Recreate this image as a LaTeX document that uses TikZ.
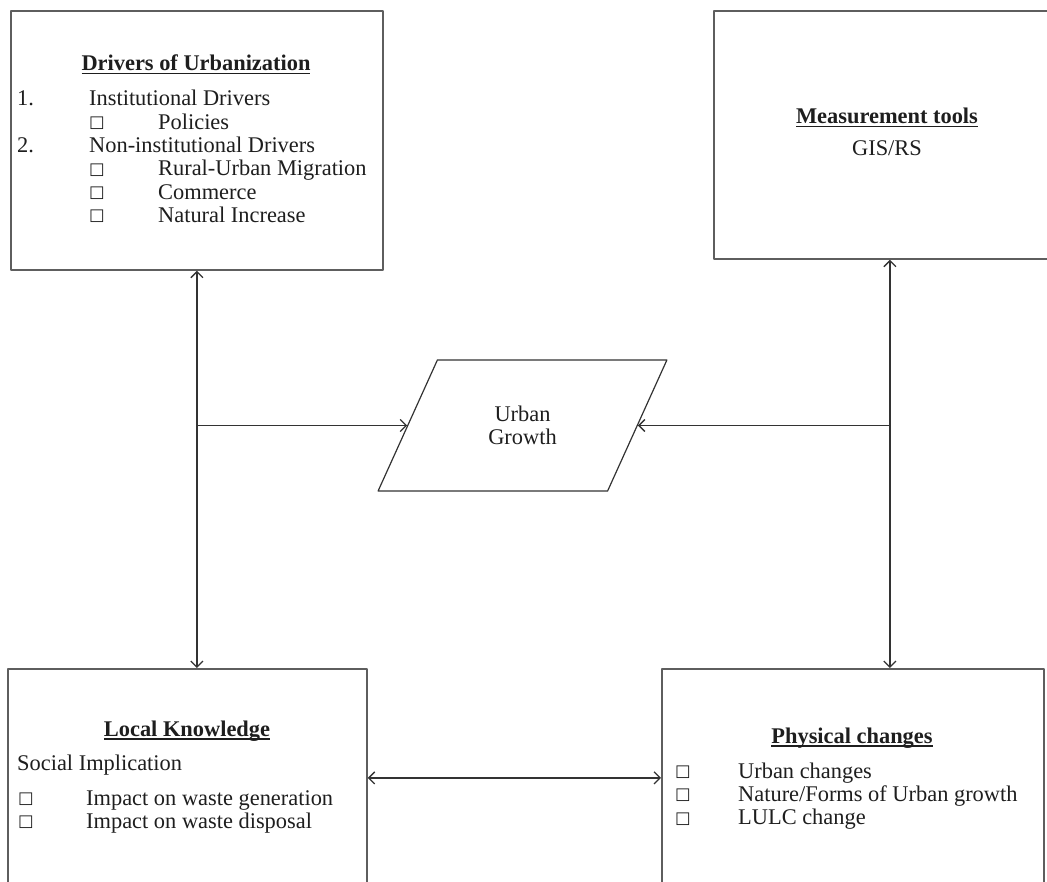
\documentclass[tikz,border=0pt]{standalone}
\usepackage{fontspec}
\setmainfont{Liberation Serif}
\newfontfamily\symfont{DejaVu Sans}
\usepackage{tikz}
\usetikzlibrary{arrows.meta,positioning,calc,shapes.geometric}
\definecolor{frame}{HTML}{5E5E5E}
\definecolor{wire}{HTML}{333333}
\definecolor{ink}{HTML}{1E1E1E}
\newsavebox{\headbox}
\newcommand{\sq}{\raisebox{1.5pt}{\symfont\fontsize{16.5}{16.5}\selectfont\char"25A1}}
\newcommand{\head}[1]{\sbox{\headbox}{\textbf{#1}}%
  \rlap{\rule[-3.5pt]{\wd\headbox}{1.1pt}}\usebox{\headbox}}
\newcommand{\bodyfont}{\fontsize{22.4}{23.3}\selectfont}
\tikzset{
    every picture/.style={line cap=round,line join=round},
    panel/.style={draw=frame,fill=white,line width=1.8pt,inner sep=0pt,
      anchor=north west},
    growthbox/.style={draw=wire,line width=1.2pt,trapezium,
      trapezium left angle=58.6,trapezium right angle=121.4,
      trapezium stretches=true,minimum width=289pt,minimum height=131pt,
      inner sep=0pt,align=center,text=ink,font=\bodyfont},
    bodytext/.style={inner sep=0pt,text=ink,font=\bodyfont},
    linkarrow/.style={draw=wire,line width=1.3pt}
}
\begin{document}
\begin{tikzpicture}[x=1pt,y=-1pt,>={Straight Barb[length=6pt,width=12pt]}]
  \useasboundingbox (0,0) rectangle (1047,882);
  \clip (0,0) rectangle (1047,882);
  % panels
  \node[panel,minimum width=372pt,minimum height=259pt] (drivers) at (10,10) {};
  \node[panel,minimum width=352pt,minimum height=248pt] (tools) at (713,10) {};
  \node[panel,minimum width=359pt,minimum height=218pt] (local) at (7,668) {};
  \node[panel,minimum width=382pt,minimum height=218pt] (physical) at (661,668) {};
  \node[growthbox] (growth) at (522.5,425.5) {Urban\\Growth};
  % texts
  \node[bodytext,anchor=base] (drvhead) at (196,71) {\head{Drivers of Urbanization}};
  \node[bodytext,anchor=base west] (drvlist) at (17,106) {%
    \begin{tabular}[t]{@{}p{72pt}@{}p{69pt}@{}l@{}}
      1. & \multicolumn{2}{@{}l@{}}{Institutional Drivers}\\
         & \sq & Policies\\
      2. & \multicolumn{2}{@{}l@{}}{Non-institutional Drivers}\\
         & \sq & Rural-Urban Migration\\
         & \sq & Commerce\\
         & \sq & Natural Increase
    \end{tabular}};
  \node[bodytext,anchor=base] (toolhead) at (887,124) {\head{Measurement tools}};
  \node[bodytext,anchor=base] (toolgis) at (887,156) {GIS/RS};
  \node[bodytext,anchor=base] (lochead) at (187,736) {\head{Local Knowledge}};
  \node[bodytext,anchor=base west] (locsocial) at (17,770) {Social Implication};
  \node[bodytext,anchor=base west] (loclist) at (18,805) {%
    \begin{tabular}[t]{@{}p{68pt}@{}l@{}}
      \sq & Impact on waste generation\\
      \sq & Impact on waste disposal
    \end{tabular}};
  \node[bodytext,anchor=base] (phyhead) at (852,743) {\head{Physical changes}};
  \node[bodytext,anchor=base west] (phylist) at (675,778) {%
    \begin{tabular}[t]{@{}p{63pt}@{}l@{}}
      \sq & Urban changes\\
      \sq & Nature/Forms of Urban growth\\
      \sq & LULC change
    \end{tabular}};
  % connectors
  \draw[linkarrow,<->] (drivers.south) -- (drivers.south |- local.north);
  \draw[linkarrow,<->] (tools.south) -- (tools.south |- physical.north);
  \draw[linkarrow,->] (drivers.south |- growth.left side) -- (growth.left side);
  \draw[linkarrow,->] (tools.south |- growth.right side) -- (growth.right side);
  \draw[linkarrow,<->] (local.east) -- (physical.west);
\end{tikzpicture}
\end{document}
